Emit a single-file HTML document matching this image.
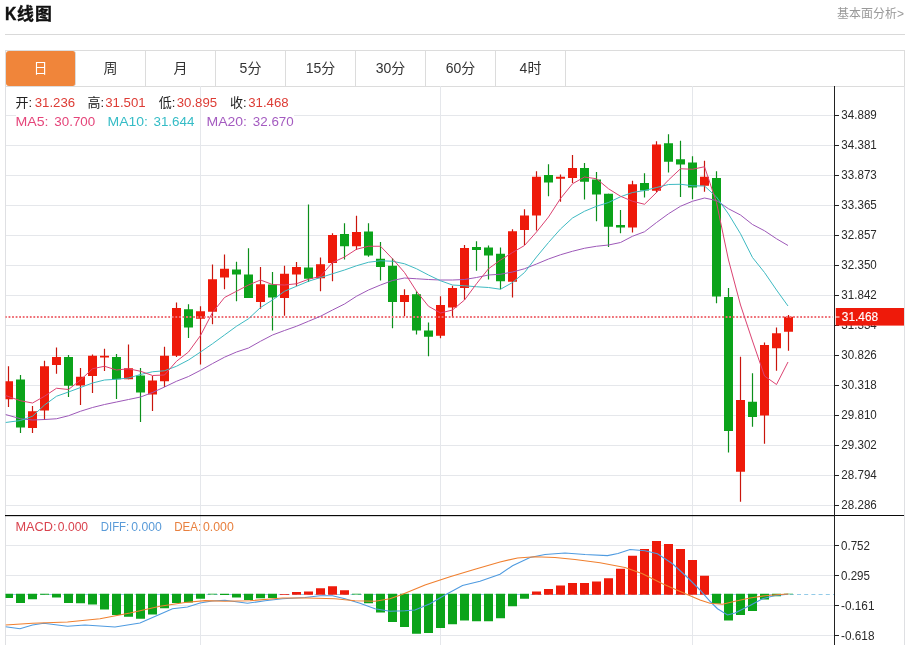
<!DOCTYPE html>
<html lang="zh-CN">
<head>
<meta charset="utf-8">
<title>K线图</title>
<style>
html,body{margin:0;padding:0;background:#fff;}
body{width:911px;height:645px;overflow:hidden;position:relative;font-family:"Liberation Sans","Noto Sans CJK SC",sans-serif;color:#333;}
.hd{position:absolute;left:5px;top:0;width:900px;height:34px;border-bottom:1px solid #d9d9d9;}
.hd h2{position:absolute;left:0;top:2px;margin:0;font-size:18px;line-height:24px;font-weight:bold;color:#111;white-space:nowrap;}
.hd h2 b{display:inline-block;transform:scaleX(.87);transform-origin:0 50%;width:12px;-webkit-text-stroke:.45px #111;}
.hd h2 i{font-style:normal;font-size:16.9px;letter-spacing:1.1px;position:relative;top:0.3px;-webkit-text-stroke:.35px #111;}
.hd a{position:absolute;right:1px;top:4.5px;font-size:12px;line-height:18px;color:#999;text-decoration:none;}
.tabs{position:absolute;left:5px;top:50px;width:898px;height:35px;border:1px solid #dcdcdc;margin:0;padding:0;list-style:none;}
.tabs li{float:left;width:69px;height:35px;line-height:35px;border-right:1px solid #dcdcdc;text-align:center;font-size:14px;color:#333;}
.tabs li.on{background:#f0853a;color:#fff;border-radius:3px;margin:0 0 0 0;}
.chart{position:absolute;left:0;top:86px;display:block;}
.chart text{font-family:"Liberation Sans","Noto Sans CJK SC",sans-serif;}
.ax text{font-size:12.5px;fill:#2a2a2a;}
.tag{font-size:12.5px;fill:#fff;stroke:#fff;stroke-width:0.15px;}
.i{font-size:13.3px;}.k{font-size:13px;}
.k{fill:#222;}.r{fill:#dd3c35;}
.m5{fill:#e5457a;}.m10{fill:#35bcc6;}.m20{fill:#a45bc0;}
.mc{fill:#d9434e;}.df{fill:#5a9bd8;}.de{fill:#e8803f;}
</style>
</head>
<body>
<div class="hd"><h2><b>K</b><i>线图</i></h2><a>基本面分析&gt;</a></div>
<ul class="tabs"><li class="on">日</li><li>周</li><li>月</li><li>5分</li><li>15分</li><li>30分</li><li>60分</li><li>4时</li></ul>
<svg class="chart" width="911" height="559" viewBox="0 0 911 559">
<defs><clipPath id="plot"><rect x="5.5" y="0" width="829" height="559"/></clipPath></defs>
<path d="M5 29.5 H16 M294 29.5 H834 M5 59.5 H834 M5 89.5 H834 M5 119.5 H834 M5 149.5 H834 M5 179.5 H834 M5 209.5 H834 M5 239.5 H834 M5 269.5 H834 M5 299.5 H834 M5 329.5 H834 M5 359.5 H834 M5 389.5 H834 M5 419.5 H834 M5 459.5 H834 M5 489.5 H834 M5 519.5 H834 M5 549.5 H834 M200.5 0 V559 M440.5 0 V559 M692.5 0 V559" stroke="#e5e7eb" stroke-width="1" fill="none" shape-rendering="crispEdges"/>
<path d="M5.5 0 V559 M904.5 0 V559" stroke="#dfe0e3" stroke-width="1" fill="none" shape-rendering="crispEdges"/>
<g clip-path="url(#plot)">
<path d="M8.5 280.25 V321M32.5 320 V347M44.5 274.75 V334M56.5 261.5 V287.75M80.5 282 V319M92.5 268.5 V307M104.5 262.75 V285M128.5 258.5 V293.25M152.5 290 V325M164.5 260.75 V301M176.5 216.5 V271M200.5 220.25 V278.5M212.5 178.5 V238.25M224.5 168.5 V203.25M260.5 181 V222.75M284.5 179.75 V229.75M296.5 176 V200.25M320.5 171.5 V205.25M332.5 147.25 V195.25M356.5 129.75 V164M404.5 203.25 V230.25M440.5 210.25 V252.25M452.5 199.75 V231.5M464.5 159 V214M512.5 143.25 V211.5M524.5 123.25 V159M536.5 85.25 V144.5M560.5 88.5 V115.75M572.5 69 V97M632.5 94.75 V146.5M656.5 55.25 V106.5M704.5 74.75 V105.75M740.5 270.75 V415.75M764.5 256.5 V357.75M776.5 241.5 V284.75M788.5 229 V264.75" stroke="#c9150c" stroke-width="1.2" fill="none"/>
<path d="M20.5 289 V347M68.5 269 V311M116.5 268 V313M140.5 282 V336M188.5 218.25 V252M236.5 175.75 V215.25M248.5 162.25 V212M272.5 186 V244.5M308.5 118.5 V196M344.5 137.25 V173.5M368.5 137.25 V170.75M380.5 156 V194.5M392.5 172.25 V242.25M416.5 205.25 V248.5M428.5 236.5 V270.25M476.5 155.25 V184.75M488.5 159.5 V193.5M500.5 161.5 V203.25M548.5 78.25 V110.25M584.5 77 V113.5M596.5 86 V135.25M608.5 107.75 V161M620.5 124 V147.25M644.5 87.25 V111.5M668.5 48.25 V86.5M680.5 54.75 V111M692.5 70.25 V113.25M716.5 85.25 V217.25M728.5 202 V366.5M752.5 287.25 V340.75" stroke="#0b8f1a" stroke-width="1.2" fill="none"/>
<path d="M4 295.25h9v18h-9zM28 325.25h9v16.75h-9zM40 280.25h9v44.25h-9zM52 271h9v8h-9zM76 290.75h9v8.75h-9zM88 269.75h9v20.25h-9zM100 269.75h9v1.75h-9zM124 282.25h9v11h-9zM148 294.5h9v14h-9zM160 269.75h9v25.5h-9zM172 222h9v47.75h-9zM196 225.25h9v7.5h-9zM208 193.25h9v32.5h-9zM220 182.75h9v8.75h-9zM256 198.25h9v17.75h-9zM280 187.75h9v24.25h-9zM292 181h9v7.5h-9zM316 178.25h9v14h-9zM328 149h9v28h-9zM352 146h9v14.25h-9zM400 209h9v7h-9zM436 219h9v30.75h-9zM448 202h9v19.5h-9zM460 162h9v40h-9zM508 145.25h9v50.5h-9zM520 129.5h9v14.5h-9zM532 90.75h9v38.75h-9zM556 90.75h9v2h-9zM568 82h9v10h-9zM628 98.25h9v43.25h-9zM652 58.5h9v46.25h-9zM700 90.75h9v9h-9zM736 314h9v71.75h-9zM760 259h9v70.5h-9zM772 247.25h9v15h-9zM784 230.75h9v15h-9z" fill="#ee1a0a"/>
<path d="M16 293.5h9v48h-9zM64 271h9v28.75h-9zM112 271h9v22.25h-9zM136 289.5h9v17h-9zM184 223.25h9v18.25h-9zM232 183.5h9v5h-9zM244 188.5h9v23.5h-9zM268 198.5h9v13h-9zM304 181.5h9v11.25h-9zM340 148h9v12.25h-9zM364 145.5h9v24h-9zM376 172.75h9v8.25h-9zM388 179.75h9v36.25h-9zM412 208.25h9v36.25h-9zM424 244.5h9v6.25h-9zM472 161h9v3h-9zM484 161.5h9v8h-9zM496 167.75h9v27.5h-9zM544 89h9v7.5h-9zM580 82h9v13.75h-9zM592 93.5h9v15h-9zM604 107.75h9v33h-9zM616 139h9v2.5h-9zM640 97h9v7.5h-9zM664 57.25h9v18.5h-9zM676 73.25h9v5.25h-9zM688 76.5h9v25h-9zM712 92h9v118.5h-9zM724 211h9v134h-9zM748 315.75h9v15.25h-9z" fill="#0ba31a"/>
<path d="M5 231 H832.5" stroke="#ef6e75" stroke-width="2" stroke-dasharray="1.8 1.75" fill="none"/>
<path d="M5.5 328.5L20.5 332.75L32.5 334L44.5 333.5L56.5 332.75L68.5 329.75L80.5 325.25L92.5 321.5L104.5 318.5L116.5 316L128.5 313.5L140.5 311L152.5 306.5L164.5 301L176.5 295.25L188.5 290.5L200.5 284.3L212.5 277.6L224.5 271.2L236.5 266L248.5 262L260.5 255.25L272.5 249L284.5 244.5L296.5 240.25L308.5 235.25L320.5 230.25L332.5 224L344.5 218L356.5 210.25L368.5 204L380.5 199L392.5 194.5L404.5 192L416.5 192.75L428.5 193.5L440.5 194L452.5 194L464.5 193.5L476.5 191.5L488.5 189L500.5 188.25L512.5 186L524.5 182.75L536.5 178L548.5 173L560.5 168.75L572.5 165.25L584.5 162.25L596.5 160.25L608.5 159L620.5 156.5L632.5 150.25L644.5 145.75L656.5 136.5L668.5 127.75L680.5 120.25L692.5 115.25L704.5 112L716.5 114.5L728.5 122.75L740.5 129L752.5 138.5L764.5 144.75L776.5 152.75L788 159.5" stroke="#9d58b8" stroke-width="1" stroke-linejoin="round" fill="none"/>
<path d="M5.5 336.5L20.5 334.5L32.5 330.25L44.5 319L56.5 310.25L68.5 306L80.5 301.5L92.5 297L104.5 294L116.5 293.25L128.5 292L140.5 288.5L152.5 285.75L164.5 284.75L176.5 280.25L188.5 274L200.5 266L212.5 257.75L224.5 249L236.5 240.25L248.5 232.75L260.5 221.5L272.5 214L284.5 205.25L296.5 200.25L308.5 195.25L320.5 191.5L332.5 187.75L344.5 184L356.5 179.75L368.5 176.25L380.5 174.75L392.5 175.25L404.5 177.75L416.5 182.75L428.5 189L440.5 194.75L452.5 199L464.5 199.75L476.5 200.75L488.5 201.5L500.5 203.25L512.5 196.5L524.5 186.5L536.5 171L548.5 156.5L560.5 143L572.5 132L584.5 125.25L596.5 120.25L608.5 116.5L620.5 110.75L632.5 106.5L644.5 104.5L656.5 101.5L668.5 98.5L680.5 98.25L692.5 99.75L704.5 100L716.5 111L728.5 128L740.5 147.75L752.5 171.5L764.5 186.5L776.5 204L788 220" stroke="#3fbac2" stroke-width="1" stroke-linejoin="round" fill="none"/>
<path d="M5.5 309.5L20.5 314.75L32.5 317L44.5 310.25L56.5 302.25L68.5 303.5L80.5 294L92.5 282.75L104.5 280.25L116.5 284L128.5 282.75L140.5 285.25L152.5 289.5L164.5 289L176.5 275.25L188.5 266L200.5 249.5L212.5 226.5L224.5 211.5L236.5 205.25L248.5 199L260.5 194L272.5 198.5L284.5 199L296.5 197.75L308.5 193.25L320.5 190.25L332.5 176.5L344.5 171L356.5 163.25L368.5 160.25L380.5 160.25L392.5 172.75L404.5 186.5L416.5 205.25L428.5 220.25L440.5 227L452.5 224L464.5 214L476.5 197.75L488.5 182.75L500.5 174L512.5 166.5L524.5 159.5L536.5 146L548.5 131L560.5 112.5L572.5 97.75L584.5 91L596.5 92.75L608.5 102.75L620.5 110.25L632.5 115.25L644.5 118.25L656.5 106.5L668.5 94L680.5 82.75L692.5 83.25L704.5 80.75L716.5 116.5L728.5 174L740.5 219L752.5 255L764.5 290L776.5 298.5L788 276" stroke="#db4271" stroke-width="1" stroke-linejoin="round" fill="none"/>
<path d="M5 508.5 H835" stroke="#93cbe8" stroke-width="1" stroke-dasharray="4 3.2" fill="none"/>
<path d="M280 508h9v0.65h-9zM292 506h9v2.65h-9zM304 505.5h9v3.15h-9zM316 502.25h9v6.4h-9zM328 500.25h9v8.4h-9zM340 504.25h9v4.4h-9zM532 505.5h9v3.15h-9zM544 503h9v5.65h-9zM556 499.5h9v9.15h-9zM568 497h9v11.65h-9zM580 497h9v11.65h-9zM592 495.5h9v13.15h-9zM604 492.25h9v16.4h-9zM616 482.75h9v25.9h-9zM628 469.75h9v38.9h-9zM640 463h9v45.65h-9zM652 455h9v53.65h-9zM664 458h9v50.65h-9zM676 463h9v45.65h-9zM688 474h9v34.65h-9zM700 489.75h9v18.9h-9z" fill="#ee1a0a"/>
<path d="M4 507.85h9v4.15h-9zM16 507.85h9v9.15h-9zM28 507.85h9v5.4h-9zM40 507.85h9v0.9h-9zM52 507.85h9v3.65h-9zM64 507.85h9v9.15h-9zM76 507.85h9v9.4h-9zM88 507.85h9v10.65h-9zM100 507.85h9v15.65h-9zM112 507.85h9v21.15h-9zM124 507.85h9v22.9h-9zM136 507.85h9v24.9h-9zM148 507.85h9v20.65h-9zM160 507.85h9v14.4h-9zM172 507.85h9v9.15h-9zM184 507.85h9v8.65h-9zM196 507.85h9v4.9h-9zM208 507.85h9v0.75h-9zM220 507.85h9v1.05h-9zM232 507.85h9v3.65h-9zM244 507.85h9v6.15h-9zM256 507.85h9v4.4h-9zM268 507.85h9v4.15h-9zM352 507.85h9v0.55h-9zM364 507.85h9v9.4h-9zM376 507.85h9v18.65h-9zM388 507.85h9v28.15h-9zM400 507.85h9v33.15h-9zM412 507.85h9v39.9h-9zM424 507.85h9v39.15h-9zM436 507.85h9v34.15h-9zM448 507.85h9v30.4h-9zM460 507.85h9v26.65h-9zM472 507.85h9v27.4h-9zM484 507.85h9v27.4h-9zM496 507.85h9v24.4h-9zM508 507.85h9v12.4h-9zM520 507.85h9v4.9h-9zM712 507.85h9v9.9h-9zM724 507.85h9v26.65h-9zM736 507.85h9v21.15h-9zM748 507.85h9v17.15h-9zM760 507.85h9v5.65h-9zM772 507.85h9v2.4h-9zM784 507.85h9v0.45h-9z" fill="#0ba31a"/>
<path d="M5.5 540.75L20 542.75L32.5 539L43.75 537.25L67.5 540.25L85 539L115 541L140 537L160 528.25L172.5 522.75L187.5 521L200 517L212 515L225 514.2L247.5 517.25L265 514.75L282.5 512.75L305 511.5L320 509.75L332.5 509.75L345 512.75L360 517.25L375 522.75L390 525.25L405 524.75L415 524L430 517.75L445 509L462.5 499.5L480 495.25L500 488.25L512.5 479.75L530 471.5L545 468.5L565 467L585 468.5L607.5 469.6L618 467.5L630 463.5L645 464.75L657.5 467.75L672.5 477.75L687.5 491.5L700 504L710 515.25L717.5 522.75L727.5 529L735 527L750 519.5L762.5 512.75L775 509.5L788.25 508.25" stroke="#4f9be0" stroke-width="1.1" fill="none"/>
<path d="M5.5 539L32.5 537.25L67.5 536L100 532.75L130 527L160 520.25L185 516.5L205 514.6L225 515.25L250 514.75L282.5 512L307.5 512L335 512.75L355 514.75L375 515.25L390 512.75L402 508.5L425 499L450 490.75L475 483.25L500 476L517.5 472L535 470.75L555 471.5L575 473.5L600 476.75L625 481.5L642.5 487.75L662.5 497.75L682.5 506.5L700 514L710 517.25L722.5 518.25L735 515.25L750 512L765 509.75L780 508.5L788.25 508" stroke="#f08030" stroke-width="1.2" fill="none"/>
</g>
<path d="M5 429.5 H904" stroke="#0a0a0a" stroke-width="1" fill="none" shape-rendering="crispEdges"/>
<path d="M5 430.2 H834" stroke="#0a0a0a" stroke-width="0.5" fill="none" opacity="0.5"/>
<path d="M834.5 0 V559 M835 29.5 h4 M835 59.5 h4 M835 89.5 h4 M835 119.5 h4 M835 149.5 h4 M835 179.5 h4 M835 209.5 h4 M835 239.5 h4 M835 269.5 h4 M835 299.5 h4 M835 329.5 h4 M835 359.5 h4 M835 389.5 h4 M835 419.5 h4 M835 459.5 h4 M835 489.5 h4 M835 519.5 h4 M835 549.5 h4" stroke="#222" stroke-width="1" fill="none" shape-rendering="crispEdges"/>
<g class="ax">
<text x="841.3" y="33.3" textLength="35.5" lengthAdjust="spacingAndGlyphs">34.889</text>
<text x="841.3" y="63.3" textLength="35.5" lengthAdjust="spacingAndGlyphs">34.381</text>
<text x="841.3" y="93.3" textLength="35.5" lengthAdjust="spacingAndGlyphs">33.873</text>
<text x="841.3" y="123.3" textLength="35.5" lengthAdjust="spacingAndGlyphs">33.365</text>
<text x="841.3" y="153.3" textLength="35.5" lengthAdjust="spacingAndGlyphs">32.857</text>
<text x="841.3" y="183.3" textLength="35.5" lengthAdjust="spacingAndGlyphs">32.350</text>
<text x="841.3" y="213.3" textLength="35.5" lengthAdjust="spacingAndGlyphs">31.842</text>
<text x="841.3" y="243.3" textLength="35.5" lengthAdjust="spacingAndGlyphs">31.334</text>
<text x="841.3" y="273.3" textLength="35.5" lengthAdjust="spacingAndGlyphs">30.826</text>
<text x="841.3" y="303.3" textLength="35.5" lengthAdjust="spacingAndGlyphs">30.318</text>
<text x="841.3" y="333.3" textLength="35.5" lengthAdjust="spacingAndGlyphs">29.810</text>
<text x="841.3" y="363.3" textLength="35.5" lengthAdjust="spacingAndGlyphs">29.302</text>
<text x="841.3" y="393.3" textLength="35.5" lengthAdjust="spacingAndGlyphs">28.794</text>
<text x="841.3" y="423.3" textLength="35.5" lengthAdjust="spacingAndGlyphs">28.286</text>
<text x="841" y="463.6" textLength="29" lengthAdjust="spacingAndGlyphs">0.752</text>
<text x="841" y="493.6" textLength="29" lengthAdjust="spacingAndGlyphs">0.295</text>
<text x="841" y="523.6" textLength="33.5" lengthAdjust="spacingAndGlyphs">-0.161</text>
<text x="841" y="553.6" textLength="33.5" lengthAdjust="spacingAndGlyphs">-0.618</text>
</g>
<rect x="835.8" y="222" width="68.2" height="17.6" fill="#ee1a0a"/>
<path d="M835 231 h4.5" stroke="#fff" stroke-width="1"/>
<text class="tag" x="841.8" y="235.4" textLength="36.3" lengthAdjust="spacingAndGlyphs">31.468</text>
<text class="i k" x="15.5" y="20.6">开:</text>
<text class="i r" x="34.7" y="21.3" textLength="40.4" lengthAdjust="spacingAndGlyphs">31.236</text>
<text class="i k" x="87.5" y="20.6">高:</text>
<text class="i r" x="105.2" y="21.3" textLength="40.4" lengthAdjust="spacingAndGlyphs">31.501</text>
<text class="i k" x="158.75" y="20.6">低:</text>
<text class="i r" x="176.7" y="21.3" textLength="40.4" lengthAdjust="spacingAndGlyphs">30.895</text>
<text class="i k" x="230" y="20.6">收:</text>
<text class="i r" x="248.2" y="21.3" textLength="40.4" lengthAdjust="spacingAndGlyphs">31.468</text>
<text class="i m5" x="15.5" y="39.9" textLength="33" lengthAdjust="spacingAndGlyphs">MA5:</text>
<text class="i m5" x="54.3" y="39.9" textLength="40.9" lengthAdjust="spacingAndGlyphs">30.700</text>
<text class="i m10" x="107.5" y="39.9" textLength="40.5" lengthAdjust="spacingAndGlyphs">MA10:</text>
<text class="i m10" x="153.5" y="39.9" textLength="40.9" lengthAdjust="spacingAndGlyphs">31.644</text>
<text class="i m20" x="206.5" y="39.9" textLength="40.5" lengthAdjust="spacingAndGlyphs">MA20:</text>
<text class="i m20" x="252.8" y="39.9" textLength="40.9" lengthAdjust="spacingAndGlyphs">32.670</text>
<text class="i mc" x="15.5" y="444.8" textLength="41" lengthAdjust="spacingAndGlyphs">MACD:</text>
<text class="i mc" x="57.8" y="444.8" textLength="30.3" lengthAdjust="spacingAndGlyphs">0.000</text>
<text class="i df" x="100.75" y="444.8" textLength="28.5" lengthAdjust="spacingAndGlyphs">DIFF:</text>
<text class="i df" x="131.25" y="444.8" textLength="30.5" lengthAdjust="spacingAndGlyphs">0.000</text>
<text class="i de" x="174.25" y="444.8" textLength="27" lengthAdjust="spacingAndGlyphs">DEA:</text>
<text class="i de" x="203" y="444.8" textLength="30.75" lengthAdjust="spacingAndGlyphs">0.000</text>
</svg>
</body>
</html>
